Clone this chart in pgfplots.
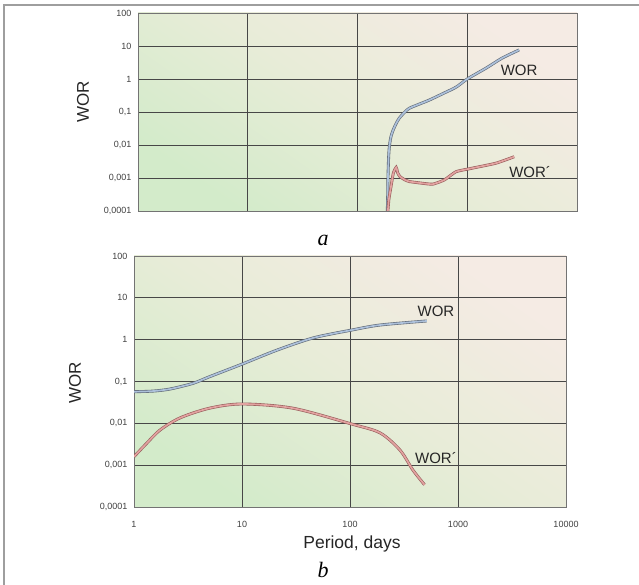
\documentclass[border=0pt]{standalone}
\usepackage{fontspec}
\setmainfont{Liberation Sans}
\newfontfamily\capfont{Liberation Serif}
\usepackage{pgfplots}
\pgfplotsset{compat=1.18}
\definecolor{bgLL}{RGB}{211,235,202}
\definecolor{bgMID}{RGB}{232,236,216}
\definecolor{bgUR}{RGB}{245,235,228}
\definecolor{worin}{RGB}{172,192,218}
\definecolor{worout}{RGB}{95,105,118}
\definecolor{wpin}{RGB}{226,162,160}
\definecolor{wpout}{RGB}{150,92,90}
\tikzset{
  worline/.style={draw=worout, double=worin, line width=0.6pt, double distance=1.7pt},
  wpline/.style={draw=wpout, double=wpin, line width=0.6pt, double distance=1.7pt},
  clab/.style={font=\fontsize{15}{17}\selectfont, text=black!85},
}
\begin{document}
\begin{tikzpicture}[x=1pt,y=1pt]
\useasboundingbox (0,0) rectangle (639,585);
\draw[color=black!38, line width=1.3pt] (4,0) -- (4,580) -- (639,580);
% panel a
\begin{axis}[xmode=log, ymode=log, scale only axis,
    xmin=1, xmax=10000, ymin=1e-4, ymax=100,
    xtick={1,10,100,1000,10000},
    ytick={1e-4,1e-3,1e-2,1e-1,1,10,100},
    yticklabels={{0,0001},{0,001},{0,01},{0,1},1,10,100},
    xticklabels={},
    xminorticks=false, yminorticks=false,
    grid=major,
    major grid style={color=black!72, line width=0.7pt},
    major tick length=0pt,
    axis line style={black!55, line width=0.8pt},
    yticklabel style={font=\fontsize{9}{10}\selectfont, text=black!75, xshift=-3pt},
    axis background/.style={top color=bgUR, bottom color=bgLL, middle color=bgMID, shading angle=-35},
    at={(138pt,374pt)}, anchor=south west, width=439pt, height=198pt]
\addplot[worline, smooth, tension=0.45] coordinates {
 (186,5e-5) (188.5,0.0003) (189.5,0.001) (192,0.004) (195,0.0087) (201,0.017) (210,0.027) (225,0.045) (241,0.066) (270,0.1) (297,0.13) (360,0.17) (451,0.23) (620,0.38) (794,0.57) (1000,1) (1489,2.15) (2080,4.3) (2970,7.6)};
\addplot[wpline, tension=0.3, smooth] coordinates {
 (186,5e-5) (193,0.00022) (202,0.00055) (212,0.0014) (225,0.0021) (233,0.0014) (244,0.0011) (270,0.00088) (297,0.00078) (380,0.0007) (484,0.00065) (617,0.00087) (789,0.00155) (1042,0.0019) (1820,0.0028) (2676,0.0044)};
\node[clab] at (axis cs:2970,1.87) {WOR};
\node[clab] at (axis cs:3740,0.00152) {WOR´};
\end{axis}
% panel b
\begin{axis}[xmode=log, ymode=log, scale only axis,
    xmin=1, xmax=10000, ymin=1e-4, ymax=100,
    xtick={1,10,100,1000,10000},
    ytick={1e-4,1e-3,1e-2,1e-1,1,10,100},
    yticklabels={{0,0001},{0,001},{0,01},{0,1},1,10,100},
    xticklabels={1,10,100,1000,10000},
    xminorticks=false, yminorticks=false,
    grid=major,
    major grid style={color=black!72, line width=0.7pt},
    major tick length=0pt,
    axis line style={black!55, line width=0.8pt},
    yticklabel style={font=\fontsize{9}{10}\selectfont, text=black!75, xshift=-3pt},
    xticklabel style={font=\fontsize{9}{10}\selectfont, text=black!75, yshift=-11pt},
    axis background/.style={top color=bgUR, bottom color=bgLL, middle color=bgMID, shading angle=-35},
    at={(134pt,78pt)}, anchor=south west, width=432pt, height=251pt]
\addplot[worline, smooth] coordinates {
 (1,0.057) (1.5,0.059) (2.15,0.066) (3.5,0.09) (5,0.13) (10,0.26) (21,0.56) (45.6,1.1) (104,1.7) (190,2.24) (515,2.8)};
\addplot[wpline, smooth, tension=0.5] coordinates {
 (1,0.0016) (1.32,0.0034) (1.74,0.0069) (2.67,0.0135) (5,0.023) (10,0.029) (29.6,0.023) (104,0.0096) (190,0.0059) (290,0.0023) (383,0.00076) (490,0.00034)};
\node[clab] at (axis cs:625,4.84) {WOR};
\node[clab] at (axis cs:625,0.00148) {WOR´};
\end{axis}
\node[rotate=90, font=\fontsize{17}{20}\selectfont, text=black!85] at (83,483) {WOR};
\node[rotate=90, font=\fontsize{17}{20}\selectfont, text=black!85] at (75,202) {WOR};
\node[font=\fontsize{17.5}{20}\selectfont, text=black!85] at (352,41) {Period, days};
\node[font=\capfont\itshape\fontsize{22}{24}\selectfont] at (323,345) {a};
\node[font=\capfont\itshape\fontsize{22}{24}\selectfont] at (323,15) {b};
\end{tikzpicture}
\end{document}
